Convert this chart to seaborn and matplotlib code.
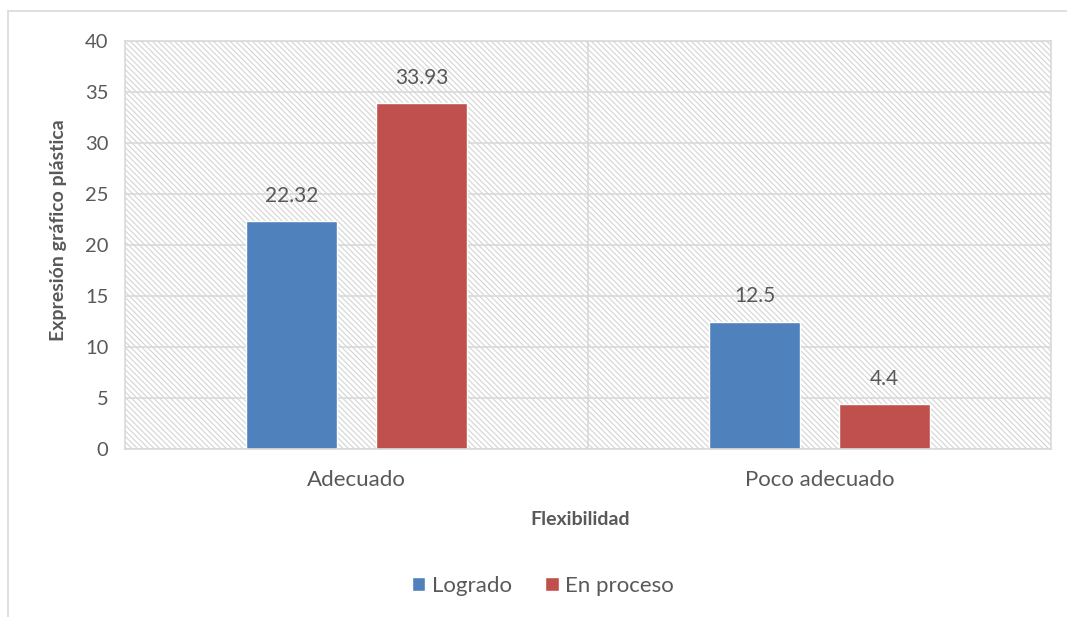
import pandas as pd
import matplotlib.pyplot as plt
import seaborn as sns
from matplotlib.patches import Rectangle
from matplotlib.lines import Line2D

# Data
categories = ['Adecuado', 'Poco adecuado']
series_names = ['Logrado', 'En proceso']
logrado = [22.32, 12.5]
en_proceso = [33.93, 4.4]
colors = ['#4F81BD', '#C0504D']

df = pd.DataFrame({
    'Flexibilidad': categories * 2,
    'Serie': [series_names[0]] * 2 + [series_names[1]] * 2,
    'Valor': logrado + en_proceso,
})

sns.set_style('white')
plt.rcParams['font.family'] = ['Lato', 'DejaVu Sans']
plt.rcParams['hatch.linewidth'] = 0.8
text_color = '#595959'
grid_color = '#d9d9d9'

fig = plt.figure(figsize=(10.67, 6.17), dpi=100)
ax = fig.add_axes([0.1172, 0.2723, 0.8678, 0.6612])

# hatched plot-area background
ax.add_patch(Rectangle((0, 0), 1, 1, transform=ax.transAxes, facecolor='white',
                       edgecolor='#d4d4d4', hatch='\\\\\\\\\\\\', lw=0, zorder=0))

sns.barplot(data=df, x='Flexibilidad', y='Valor', hue='Serie', palette=colors,
            width=0.5616, gap=0.3, saturation=1, ax=ax, legend=False, zorder=2)

for cont, vals in zip(ax.containers, [logrado, en_proceso]):
    ax.bar_label(cont, labels=[f'{v:g}' for v in vals], padding=11,
                 fontsize=15, color=text_color)

ax.set_xlim(-0.5, 1.5)
ax.set_ylim(0, 40)
ax.set_yticks(range(0, 41, 5))
ax.set_xticks([0.5], minor=True)
ax.set_axisbelow(True)
ax.grid(axis='y', color=grid_color, lw=1.2)
ax.grid(axis='x', which='minor', color=grid_color, lw=1.2)
ax.tick_params(axis='both', which='both', length=0, labelcolor=text_color)
ax.tick_params(axis='x', pad=15, labelsize=16)
ax.tick_params(axis='y', pad=12, labelsize=14.5)
for s in ax.spines.values():
    s.set_color(grid_color)
    s.set_linewidth(1.2)

ax.set_xlabel('Flexibilidad', fontsize=14, fontweight='bold', color=text_color)
ax.set_ylabel('Expresión gráfico plástica', fontsize=14, fontweight='bold',
              color=text_color)
ax.xaxis.label.set_va('center')
ax.yaxis.label.set_va('center')
ax.xaxis.set_label_coords(0.492, -0.172)
ax.yaxis.set_label_coords(-0.072, 0.537)

handles = [Rectangle((0, 0), 1, 1, facecolor=c) for c in colors]
fig.legend(handles, series_names, loc='center', bbox_to_anchor=(0.509, 0.05),
           ncol=2, frameon=False, fontsize=16, handlelength=0.6,
           handleheight=0.6, handletextpad=0.3, columnspacing=1.5,
           labelcolor=text_color)

# outer chart border (left and top edges visible)
fig.add_artist(Line2D([8 / 1067, 8 / 1067], [0, 1 - 11 / 617],
                      transform=fig.transFigure, color=grid_color, lw=1.2))
fig.add_artist(Line2D([8 / 1067, 1], [1 - 11 / 617, 1 - 11 / 617],
                      transform=fig.transFigure, color=grid_color, lw=1.2))

plt.savefig('out.png', dpi=100)
